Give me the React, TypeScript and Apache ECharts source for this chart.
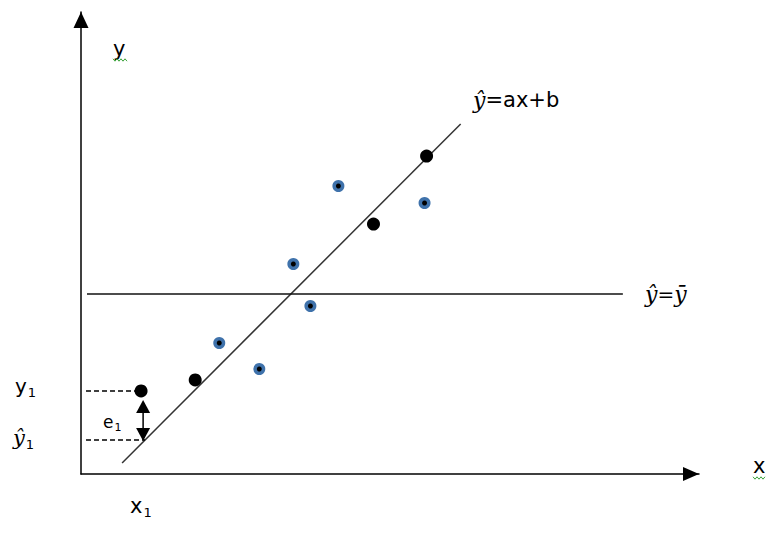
import React, { useEffect, useRef } from 'react';
import * as echarts from 'echarts';

// Data in arbitrary units: x from 0 to 100, y from 0 to 100
const blackPoints: number[][] = [[9.72, 17.97], [18.48, 20.35], [47.33, 54.11], [55.92, 68.83]];
const bluePoints: number[][] = [[22.37, 28.35], [28.85, 22.73], [34.36, 45.45], [37.12, 36.36], [41.65, 62.34], [55.59, 58.66]];
const regressionLine: number[][] = [[6.65, 2.38], [61.43, 75.76]];
const meanLine: number[][] = [[0.97, 38.96], [87.68, 38.96]];
const y1Guide: number[][] = [[0.81, 17.97], [9.72, 17.97]];
const yhat1Guide: number[][] = [[0.81, 7.36], [10.37, 7.36]];
const residualArrow: number[][] = [[10.05, 8.55], [10.05, 14.61]];

const SANS = '"DejaVu Sans", "Noto Sans", sans-serif';
const SERIF = '"DejaVu Serif", "Liberation Serif", serif';

function squiggle(x0: number, x1: number, y: number): number[][] {
  const pts: number[][] = [];
  let up = true;
  for (let x = x0; x <= x1; x += 2) {
    pts.push([x, up ? y - 1.2 : y + 1.2]);
    up = !up;
  }
  return pts;
}

const subStyle = (size: number) => ({ font: `${size}px ${SANS}`, verticalAlign: 'bottom' as const, padding: [0, 0, 0, 1] });

export default function App() {
  const ref = useRef<HTMLDivElement>(null);
  useEffect(() => {
    if (!ref.current) return;
    const chart = echarts.init(ref.current, null, { renderer: 'svg' });
    const axisCommon = {
      type: 'value' as const,
      min: 0,
      max: 100,
      axisTick: { show: false },
      axisLabel: { show: false },
      splitLine: { show: false },
    };
    chart.setOption({
      animation: false,
      backgroundColor: '#fff',
      grid: { left: 81, top: 12, right: 84, bottom: 64 },
      xAxis: {
        ...axisCommon,
        axisLine: {
          show: true,
          onZero: false,
          lineStyle: { color: '#000', width: 1.5 },
          symbol: ['none', 'triangle'],
          symbolSize: [14, 16],
          symbolOffset: [0, -8],
        },
      },
      yAxis: {
        ...axisCommon,
        axisLine: {
          show: true,
          onZero: false,
          lineStyle: { color: '#000', width: 1.5 },
          symbol: ['none', 'triangle'],
          symbolSize: [15, 16],
          symbolOffset: [0, -8],
        },
      },
      series: [
        {
          type: 'line',
          data: regressionLine,
          symbol: 'none',
          lineStyle: { color: '#333', width: 1.5 },
          z: 2,
        },
        {
          type: 'line',
          data: meanLine,
          symbol: 'none',
          lineStyle: { color: '#111', width: 1.5 },
          z: 2,
        },
        {
          type: 'line',
          data: y1Guide,
          symbol: 'none',
          lineStyle: { color: '#000', width: 1.3, type: [5, 3] },
          z: 2,
        },
        {
          type: 'line',
          data: yhat1Guide,
          symbol: 'none',
          lineStyle: { color: '#000', width: 1.3, type: [5, 3] },
          z: 2,
        },
        {
          type: 'line',
          data: [
            { value: residualArrow[0], symbolRotate: 180 },
            { value: residualArrow[1] },
          ],
          symbol: 'triangle',
          symbolSize: [14, 13],
          showSymbol: true,
          showAllSymbol: true,
          itemStyle: { color: '#000' },
          lineStyle: { color: '#000', width: 1.5 },
          z: 3,
        },
        {
          type: 'scatter',
          data: blackPoints,
          symbolSize: 13,
          itemStyle: { color: '#000', opacity: 1 },
          z: 5,
        },
        {
          type: 'scatter',
          data: bluePoints,
          symbolSize: 8.5,
          itemStyle: { color: '#000', borderColor: '#3f72ab', borderWidth: 3.5, opacity: 1 },
          z: 5,
        },
      ],
      graphic: [
        { type: 'text', x: 113, y: 49, style: { text: 'y', font: `21px ${SANS}`, fill: '#000', verticalAlign: 'middle' } },
        { type: 'polyline', shape: { points: squiggle(113, 127, 60) }, style: { stroke: '#3aa33a', lineWidth: 1, fill: null } },
        { type: 'text', x: 753, y: 466, style: { text: 'x', font: `21px ${SANS}`, fill: '#000', verticalAlign: 'middle' } },
        { type: 'polyline', shape: { points: squiggle(753, 765, 478) }, style: { stroke: '#3aa33a', lineWidth: 1, fill: null } },
        {
          type: 'text', x: 473, y: 100,
          style: {
            text: '{m|ŷ}{n|=ax+b}', verticalAlign: 'middle', fill: '#000',
            rich: { m: { font: `italic 22px ${SERIF}` }, n: { font: `21px ${SANS}` } },
          },
        },
        {
          type: 'text', x: 645, y: 294,
          style: {
            text: '{m|ŷ}{n|=}{m|ȳ}', verticalAlign: 'middle', fill: '#000',
            rich: { m: { font: `italic 22px ${SERIF}` }, n: { font: `20px ${SANS}` } },
          },
        },
        {
          type: 'text', x: 15, y: 386,
          style: {
            text: '{n|y}{s|1}', verticalAlign: 'middle', fill: '#000',
            rich: { n: { font: `20px ${SANS}`, lineHeight: 25 }, s: subStyle(13) },
          },
        },
        {
          type: 'text', x: 13, y: 438,
          style: {
            text: '{m|ŷ}{s|1}', verticalAlign: 'middle', fill: '#000',
            rich: { m: { font: `italic 21px ${SERIF}`, lineHeight: 26 }, s: subStyle(13) },
          },
        },
        {
          type: 'text', x: 103, y: 422,
          style: {
            text: '{n|e}{s|1}', verticalAlign: 'middle', fill: '#000',
            rich: { n: { font: `17px ${SANS}`, lineHeight: 22 }, s: subStyle(11) },
          },
        },
        {
          type: 'text', x: 130, y: 506,
          style: {
            text: '{n|x}{s|1}', verticalAlign: 'middle', fill: '#000',
            rich: { n: { font: `21px ${SANS}`, lineHeight: 26 }, s: subStyle(13) },
          },
        },
      ],
    });
    return () => chart.dispose();
  }, []);
  return (
    <div
      ref={ref}
      style={{ position: 'absolute', left: 0, top: 0, width: 783, height: 538, background: '#fff' }}
    />
  );
}
